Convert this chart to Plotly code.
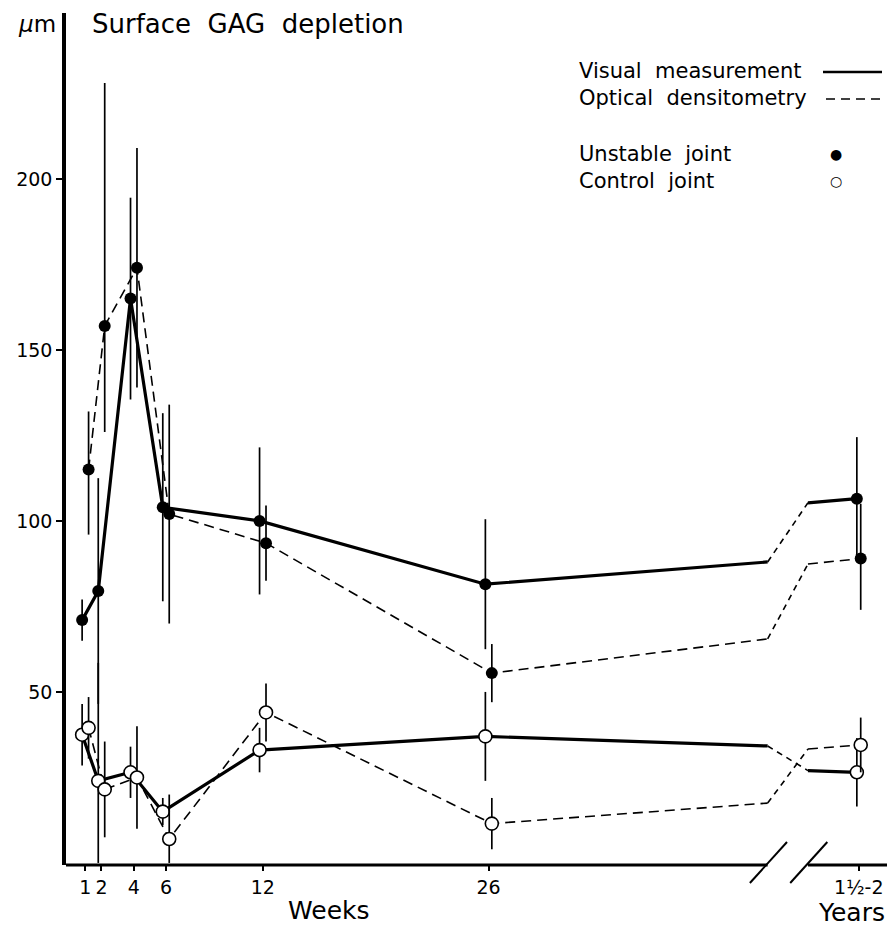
import plotly.graph_objects as go

# ---------------- data ----------------
weeks = [1, 2, 4, 6, 12, 26]
week_labels = ["1", "2", "4", "6", "12", "26"]
year_label = "1½-2"

# Unstable joint, visual measurement
unstable_visual = [71, 79.5, 165, 104, 100, 81.5]
unstable_visual_year = 106.5
unstable_visual_err_plus = [6, 33, 29.5, 27.5, 21.5, 19, 18]
unstable_visual_err_minus = [6, 33, 29.5, 27.5, 21.5, 19, 17]
unstable_visual_break = [88, 105.3]

# Unstable joint, optical densitometry
unstable_dens = [115, 157, 174, 102, 93.5, 55.5]
unstable_dens_year = 89
unstable_dens_err_plus = [17, 71, 35, 32, 11, 8.5, 16]
unstable_dens_err_minus = [19, 31, 35, 32, 11, 8.5, 15]
unstable_dens_break = [65.5, 87.4]

# Control joint, visual measurement
control_visual = [37.5, 24, 26.5, 15, 33, 37]
control_visual_year = 26.5
control_visual_err_plus = [9, 34.5, 7.5, 4, 6.5, 13, 10]
control_visual_err_minus = [9, 24, 7.5, 4, 6.5, 13, 10]
control_visual_break = [34.2, 27]

# Control joint, optical densitometry
control_dens = [39.5, 21.5, 25, 7, 44, 11.5]
control_dens_year = 34.5
control_dens_err_plus = [9, 14, 15, 13, 8.5, 7.5, 8]
control_dens_err_minus = [9, 14, 15, 7, 8.5, 7.5, 8]
control_dens_break = [17.5, 33.3]

# ---------------- layout constants ----------------
W, H = 887, 930
ML, MR, MT, MB = 66, 0, 13, 65
X_RANGE = [-0.2, 50.7]
Y_RANGE = [-0.6, 248.5]
BREAK_START, BREAK_END = 43.3, 45.8      # axis break (week-axis positions)
YEAR_POS = 48.95                          # where the 1½-2 years group sits
OFF = {"visual": -0.2, "dens": 0.2}
FONT = "DejaVu Sans"

PW = W - ML - MR
PH = H - MT - MB


def px(x):
    return (x - ML) / PW


def py(y):
    return (H - MB - y) / PH


series = [
    dict(method="visual", joint="unstable", y=unstable_visual, yr=unstable_visual_year,
         ep=unstable_visual_err_plus, em=unstable_visual_err_minus, brk=unstable_visual_break),
    dict(method="dens", joint="unstable", y=unstable_dens, yr=unstable_dens_year,
         ep=unstable_dens_err_plus, em=unstable_dens_err_minus, brk=unstable_dens_break),
    dict(method="visual", joint="control", y=control_visual, yr=control_visual_year,
         ep=control_visual_err_plus, em=control_visual_err_minus, brk=control_visual_break),
    dict(method="dens", joint="control", y=control_dens, yr=control_dens_year,
         ep=control_dens_err_plus, em=control_dens_err_minus, brk=control_dens_break),
]

LINE_STYLE = {
    "visual": dict(color="black", width=3.2, dash="solid"),
    "dens": dict(color="black", width=1.6, dash="10px,6px"),
}
CONNECTOR = dict(color="black", width=1.6, dash="6px,5px")

fig = go.Figure()

# lines first
for s in series:
    off = OFF[s["method"]]
    xs = [w + off for w in weeks]
    fig.add_trace(go.Scatter(x=xs + [BREAK_START], y=s["y"] + [s["brk"][0]],
                             mode="lines", line=LINE_STYLE[s["method"]],
                             hoverinfo="skip", showlegend=False))
    fig.add_trace(go.Scatter(x=[BREAK_START, BREAK_END], y=s["brk"],
                             mode="lines", line=CONNECTOR,
                             hoverinfo="skip", showlegend=False))
    fig.add_trace(go.Scatter(x=[BREAK_END, YEAR_POS + off * 0.6], y=[s["brk"][1], s["yr"]],
                             mode="lines", line=LINE_STYLE[s["method"]],
                             hoverinfo="skip", showlegend=False))

# markers with error bars on top
for s in series:
    off = OFF[s["method"]]
    xs = [w + off for w in weeks] + [YEAR_POS + off * 0.6]
    filled = s["joint"] == "unstable"
    fig.add_trace(go.Scatter(
        x=xs, y=s["y"] + [s["yr"]], mode="markers",
        marker=dict(size=12 if filled else 13,
                    color="black" if filled else "white",
                    line=dict(color="black", width=0 if filled else 1.6)),
        error_y=dict(type="data", symmetric=False, array=s["ep"], arrayminus=s["em"],
                     color="black", thickness=1.7, width=0),
        showlegend=False,
    ))

shapes = []
# x axis line with a gap at the break
shapes.append(dict(type="line", xref="x", yref="paper", x0=X_RANGE[0], x1=BREAK_START,
                   y0=0, y1=0, line=dict(color="black", width=3)))
shapes.append(dict(type="line", xref="x", yref="paper", x0=BREAK_END, x1=X_RANGE[1],
                   y0=0, y1=0, line=dict(color="black", width=3)))
# break slashes
for bx in (BREAK_START, BREAK_END):
    shapes.append(dict(type="line", xref="x", yref="paper",
                       x0=bx - 1.1, x1=bx + 1.2, y0=py(883), y1=py(842),
                       line=dict(color="black", width=2)))

# legend line samples
shapes.append(dict(type="line", xref="paper", yref="paper", x0=px(823), x1=px(882),
                   y0=py(72), y1=py(72), line=dict(color="black", width=2.6)))
shapes.append(dict(type="line", xref="paper", yref="paper", x0=px(826), x1=px(884),
                   y0=py(99), y1=py(99), line=dict(color="black", width=1.6, dash="9px,6px")))

annotations = []


def txt(text, x, y, size, xanchor="left", yanchor="middle"):
    annotations.append(dict(text=text, xref="paper", yref="paper", x=px(x), y=py(y),
                            xanchor=xanchor, yanchor=yanchor, showarrow=False,
                            font=dict(family=FONT, size=size, color="black")))


txt("<i>µ</i>m", 58, 24, 23, xanchor="right")
txt("Surface  GAG  depletion", 90, 24, 26)
txt("Visual  measurement", 577, 71, 21)
txt("Optical  densitometry", 577, 98, 21)
txt("Unstable  joint", 577, 154, 21)
txt("Control  joint", 577, 181, 21)
txt("●", 836, 154, 14, xanchor="center")
txt("○", 836, 181, 14, xanchor="center")
txt("Weeks", 329, 910, 25, xanchor="center")
txt("Years", 887, 912, 25, xanchor="right")

fig.update_layout(
    width=W, height=H, autosize=False,
    margin=dict(l=ML, r=MR, t=MT, b=MB, pad=0),
    paper_bgcolor="white", plot_bgcolor="white",
    shapes=shapes, annotations=annotations,
    font=dict(family=FONT, color="black"),
    xaxis=dict(range=X_RANGE, showgrid=False, zeroline=False, showline=False,
               tickmode="array", tickvals=weeks + [YEAR_POS],
               ticktext=week_labels + [year_label],
               ticks="outside", ticklen=5, tickwidth=1.5, tickcolor="black",
               tickfont=dict(family=FONT, size=19, color="black")),
    yaxis=dict(range=Y_RANGE, showgrid=False, zeroline=False, showline=True,
               linecolor="black", linewidth=3.5,
               tickmode="array", tickvals=[50, 100, 150, 200],
               ticks="outside", ticklen=6, tickwidth=1.5, tickcolor="black",
               tickfont=dict(family=FONT, size=19, color="black")),
)

fig.write_html("out.html")
